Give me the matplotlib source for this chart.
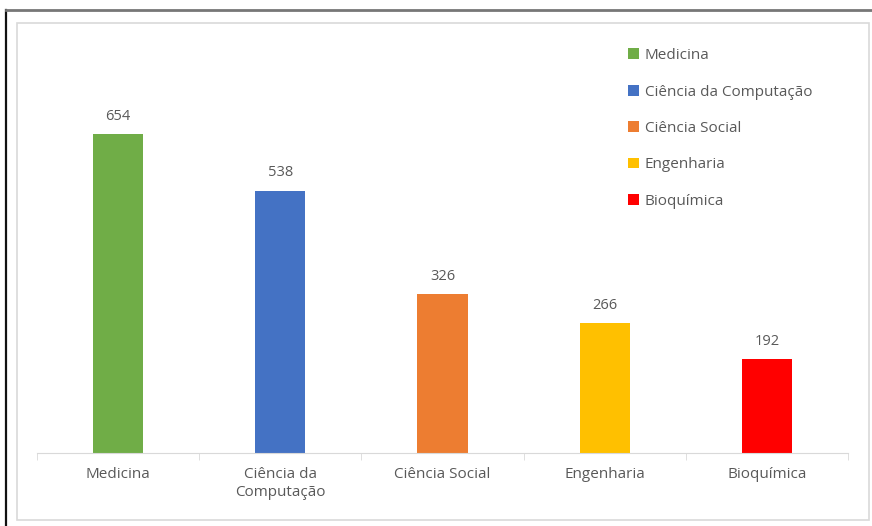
import matplotlib.pyplot as plt
from matplotlib.patches import Rectangle, Patch
from matplotlib.lines import Line2D

categorias = ['Medicina', 'Ciência da\nComputação', 'Ciência Social', 'Engenharia', 'Bioquímica']
legendas = ['Medicina', 'Ciência da Computação', 'Ciência Social', 'Engenharia', 'Bioquímica']
valores = [654, 538, 326, 266, 192]
cores = ['#70AD47', '#4472C4', '#ED7D31', '#FFC000', '#FF0000']

W, H = 872, 526
plt.rcParams['font.family'] = ['Open Sans', 'DejaVu Sans']
texto = '#595959'

fig = plt.figure(figsize=(W / 100, H / 100), dpi=100)

# moldura externa escura (esquerda e topo) e caixa clara do gráfico
fig.add_artist(Line2D([6 / W, 6 / W], [0, 1 - 10 / H], color='#111111', lw=1.6))
fig.add_artist(Line2D([6 / W, 1], [1 - 10 / H, 1 - 10 / H], color='#777777', lw=2.0))
fig.add_artist(Rectangle((16.5 / W, 1 - 520 / H), (869 - 16.5) / W, (520 - 23) / H,
                         fill=False, edgecolor='#D9D9D9', lw=1.2))

ax = fig.add_axes([37 / W, 1 - 453 / H, (848 - 37) / W, (453 - 63) / H])
x = range(len(valores))
barras = ax.bar(x, valores, width=0.31, color=cores)
for xi, v in zip(x, valores):
    ax.text(xi, v + 21, str(v), ha='center', va='bottom', fontsize=10.5, color=texto)

ax.set_xlim(-0.5, len(valores) - 0.5)
ax.set_ylim(0, 800)
ax.set_yticks([])
ax.set_xticks(list(x))
ax.set_xticklabels(categorias, fontsize=11, color=texto, linespacing=1.3)
ax.set_xticks([i - 0.5 for i in range(len(valores) + 1)], minor=True)
ax.tick_params(axis='x', which='major', length=0, pad=10)
ax.tick_params(axis='x', which='minor', length=5, color='#D9D9D9', direction='out')
for lado in ['top', 'right', 'left']:
    ax.spines[lado].set_visible(False)
ax.spines['bottom'].set_color('#D9D9D9')

handles = [Patch(facecolor=c, edgecolor='none') for c in cores]
leg = fig.legend(handles, legendas, loc='upper left', bbox_to_anchor=(622 / W, 1 - 42 / H),
                 frameon=False, fontsize=11, labelspacing=1.4, handlelength=0.7,
                 handleheight=0.7, handletextpad=0.4, borderaxespad=0)
for t in leg.get_texts():
    t.set_color(texto)

fig.savefig('out.png', dpi=100)
